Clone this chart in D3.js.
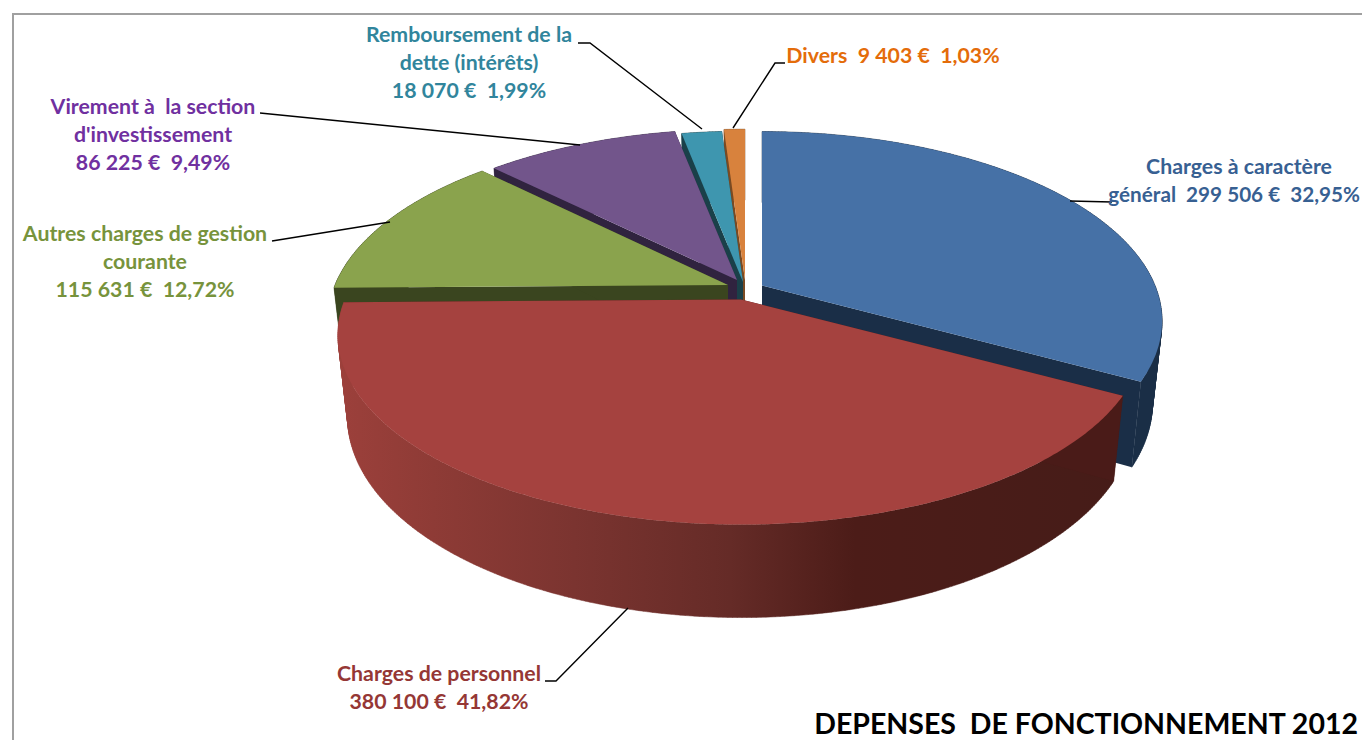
<!DOCTYPE html>
<html><head><meta charset="utf-8">
<script src="https://cdn.jsdelivr.net/npm/d3@7"></script>
<style>html,body{margin:0;padding:0;background:#fff;overflow:hidden}svg{display:block}text{white-space:pre;font-family:Lato,sans-serif;font-weight:700}</style>
</head><body><svg id="c" width="1362" height="740"></svg>
<script>
const categories = ["Charges à caractère général","Charges de personnel","Autres charges de gestion courante","Virement à la section d'investissement","Remboursement de la dette (intérêts)","Divers"];
const values = [299506,380100,115631,86225,18070,9403];
const percents = ["32,95%","41,82%","12,72%","9,49%","1,99%","1,03%"];
const amounts = ["299 506 €","380 100 €","115 631 €","86 225 €","18 070 €","9 403 €"];
const title = "DEPENSES  DE FONCTIONNEMENT 2012";

const topColors  = ["#4671A6","#A5423F","#8AA34D","#72558B","#3E96AF","#D8823D"];
const sideColors = ["#1A2E47","#4A1B18","#3A451F","#30233F","#1A4049","#7A4A22"];
const textColors = ["#376092","#953735","#77933C","#7030A0","#31859C","#E46C0A"];

// layout of each exploded slice: apex on screen, radius, vertical foreshortening
const apex = [[762,285.5,393,.465],[741,299.5,396,.462],[728,285,393,.465],[737,280,389,.46],[743,282,385,.465],[745,280,385,.465]];
const a = 0.187, q = 0.976, wall = 80;

const svg = d3.select("#c");
const TAU = 2*Math.PI;
const arcs = d3.pie().sort(null).startAngle(0).endAngle(TAU)(values);

function proj(i, th, bottom){
  const [cx,cy,R,kY] = apex[i];
  const u = Math.sin(th), v = Math.cos(th);
  const s = 1/(1+a*v);
  const m = bottom ? q : 1;
  return [cx + R*u*s*m, cy - R*kY*v*s*m + (bottom ? wall*s : 0)];
}
function apexPt(i, bottom){
  const [cx,cy] = apex[i];
  return [cx, cy + (bottom ? wall : 0)];
}
const line = d3.line();
const samples = (t0,t1) => { const n = Math.max(2,Math.ceil((t1-t0)/0.01)); return d3.range(n+1).map(k=>t0+(t1-t0)*k/n); };

// gradient on the red wall
const defs = svg.append("defs");
const grad = defs.append("linearGradient").attr("id","redWall").attr("gradientUnits","userSpaceOnUse")
  .attr("x1",340).attr("x2",1120).attr("y1",0).attr("y2",0);
[[0,"#9C403B"],[0.12,"#8E3B36"],[0.3,"#7B3430"],[0.5,"#652B27"],[0.66,"#4C1C18"],[1,"#461C18"]]
  .forEach(([o,c])=>grad.append("stop").attr("offset",o).attr("stop-color",c));

// frame
svg.append("path").attr("d","M13,740V14H1362").attr("fill","none").attr("stroke","#a0a0a0").attr("stroke-width",2);

// back to front
const order = [5,4,3,2,0,1];
order.forEach(i=>{
  const d = arcs[i], g = svg.append("g");
  const side = i===1 ? "url(#redWall)" : sideColors[i];
  const ts = samples(d.startAngle,d.endAngle);
  // outer wall: one quad per step, all wound the same way so the silhouette stays filled
  const quads = d3.pairs(ts).map(([t0,t1])=>{
    const p = [proj(i,t0,false),proj(i,t1,false),proj(i,t1,true),proj(i,t0,true)];
    return d3.polygonArea(p) < 0 ? p.reverse() : p;
  });
  g.append("path").attr("d",quads.map(p=>line(p)+"Z").join("")).attr("fill",side).attr("stroke",side).attr("stroke-width",0.5);
  // cut faces
  [d.startAngle,d.endAngle].forEach(t=>{
    const pts = [apexPt(i,false),proj(i,t,false),proj(i,t,true),apexPt(i,true)];
    g.append("path").attr("d",line(pts)+"Z").attr("fill",sideColors[i]);
  });
  // top
  const topPts = [apexPt(i,false)].concat(ts.map(t=>proj(i,t,false)));
  g.append("path").attr("d",line(topPts)+"Z").attr("fill",topColors[i]);
});

// leaders
const leaders = [
  [[1112,202],[1070,201]],
  [[545,681],[556,681],[628,608]],
  [[272,241],[390,222]],
  [[260,113],[580,145]],
  [[578,43],[590,43],[702,129]],
  [[785,63],[775,63],[733,128]]
];
leaders.forEach(p=>svg.append("path").attr("d",line(p)).attr("fill","none").attr("stroke","#000").attr("stroke-width",1.4));

// labels
const labelLines = [
  ["Charges à caractère",`général  ${amounts[0]}  ${percents[0]}`],
  ["Charges de personnel",`${amounts[1]}  ${percents[1]}`],
  ["Autres charges de gestion","courante",`${amounts[2]}  ${percents[2]}`],
  ["Virement à  la section","d'investissement",`${amounts[3]}  ${percents[3]}`],
  ["Remboursement de la","dette (intérêts)",`${amounts[4]}  ${percents[4]}`],
  [`Divers  ${amounts[5]}  ${percents[5]}`]
];
const labelPos = [[1239,174],[439,681],[145,241],[153,114],[469,42],[893,63]];
labelLines.forEach((ls,i)=>{
  ls.forEach((t,j)=>{
    const sel = svg.append("text").attr("y",labelPos[i][1]+j*28).attr("fill",textColors[i]).text(t);
    if (i===0 && j===1) sel.attr("x",1360).attr("text-anchor","end").attr("font-size",20.7);
    else sel.attr("x",labelPos[i][0]).attr("text-anchor","middle").attr("font-size",21.3);
  });
});
svg.append("text").attr("x",1358).attr("y",734).attr("text-anchor","end").attr("font-size",28.5).attr("fill","#000").text(title);
</script></body></html>
